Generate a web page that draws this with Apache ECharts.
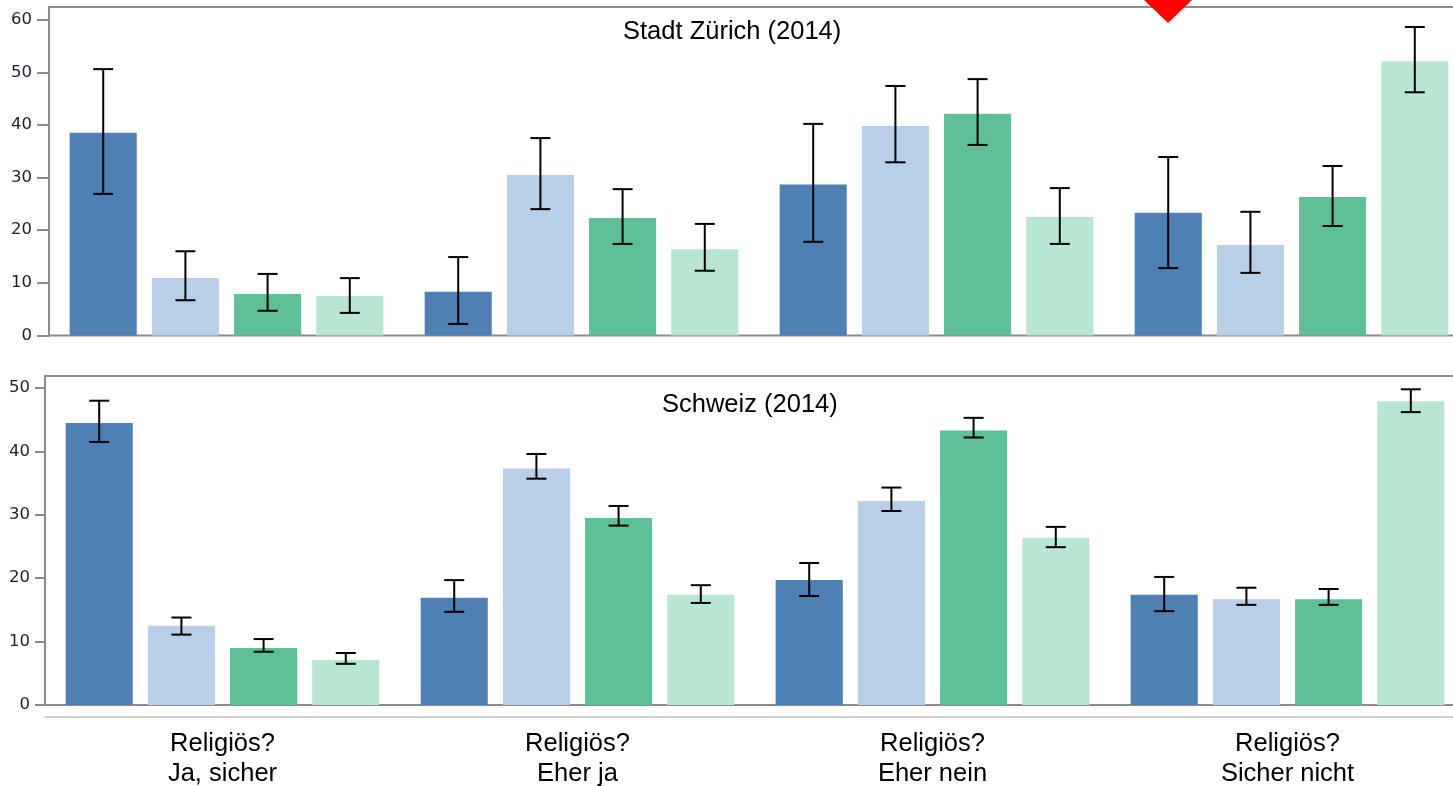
<!DOCTYPE html>
<html>
<head>
<meta charset="utf-8">
<script src="https://cdn.jsdelivr.net/npm/echarts@6/dist/echarts.min.js"></script>
<style>
  html, body { margin: 0; padding: 0; background: #fff; }
  #chart { width: 1453px; height: 786px; }
</style>
</head>
<body>
<div id="chart"></div>
<script>
// categories (x axis)
const categories = ["Religiös?\nJa, sicher", "Religiös?\nEher ja", "Religiös?\nEher nein", "Religiös?\nSicher nicht"];
const seriesNames = ["Gruppe 1", "Gruppe 2", "Gruppe 3", "Gruppe 4"];
const colors = ["#4f80b3", "#b9cfe7", "#5fbf96", "#b8e6d2"];
const yTicksZurich = [0, 10, 20, 30, 40, 50, 60];
const yTicksSchweiz = [0, 10, 20, 30, 40, 50];

// Stadt Zürich (2014): value, lower, upper per group
const zurichValues = [
  [38.5, 8.3, 28.7, 23.3],
  [10.9, 30.5, 39.8, 17.2],
  [7.9, 22.3, 42.1, 26.3],
  [7.5, 16.4, 22.5, 52.1]
];
const zurichLow = [
  [26.9, 2.2, 17.8, 12.8],
  [6.7, 24.0, 32.9, 11.9],
  [4.7, 17.4, 36.2, 20.8],
  [4.3, 12.3, 17.4, 46.2]
];
const zurichHigh = [
  [50.6, 14.9, 40.2, 33.9],
  [16.0, 37.5, 47.4, 23.5],
  [11.7, 27.8, 48.7, 32.2],
  [10.9, 21.2, 28.0, 58.6]
];

// Schweiz (2014)
const schweizValues = [
  [44.5, 16.9, 19.7, 17.4],
  [12.5, 37.3, 32.2, 16.7],
  [9.0, 29.5, 43.3, 16.7],
  [7.1, 17.4, 26.4, 47.9]
];
const schweizLow = [
  [41.5, 14.7, 17.2, 14.8],
  [11.1, 35.7, 30.6, 15.8],
  [8.4, 28.3, 42.2, 15.8],
  [6.5, 16.1, 24.9, 46.2]
];
const schweizHigh = [
  [48.0, 19.7, 22.4, 20.2],
  [13.8, 39.6, 34.3, 18.5],
  [10.4, 31.4, 45.3, 18.3],
  [8.2, 18.9, 28.1, 49.8]
];

const BAR_W = 0.189;  // share of category band
const BAR_GAP = 0.225; // share of bar width

function errorBar(i, gridIdx, low, high) {
  return {
    type: "custom",
    xAxisIndex: gridIdx,
    yAxisIndex: gridIdx,
    z: 10,
    data: low.map((l, k) => [k, l, high[k]]),
    renderItem: function (params, api) {
      const band = api.size([1, 0])[0];
      const off = (i - 1.5) * band * BAR_W * (1 + BAR_GAP);
      const lo = api.coord([api.value(0), api.value(1)]);
      const hi = api.coord([api.value(0), api.value(2)]);
      const x = lo[0] + off;
      const cap = 10;
      const style = { stroke: "#000", lineWidth: 2 };
      return {
        type: "group",
        children: [
          { type: "line", shape: { x1: x, y1: lo[1], x2: x, y2: hi[1] }, style: style },
          { type: "line", shape: { x1: x - cap, y1: lo[1], x2: x + cap, y2: lo[1] }, style: style },
          { type: "line", shape: { x1: x - cap, y1: hi[1], x2: x + cap, y2: hi[1] }, style: style }
        ]
      };
    }
  };
}

const series = [];
[[zurichValues, zurichLow, zurichHigh], [schweizValues, schweizLow, schweizHigh]].forEach((set, g) => {
  set[0].forEach((vals, i) => {
    series.push({
      name: seriesNames[i],
      type: "bar",
      xAxisIndex: g,
      yAxisIndex: g,
      barWidth: (BAR_W * 100) + "%",
      barGap: (BAR_GAP * 100) + "%",
      itemStyle: { color: colors[i] },
      data: vals
    });
  });
  set[0].forEach((vals, i) => series.push(errorBar(i, g, set[1][i], set[2][i])));
});

const yLabel = { fontFamily: "DejaVu Sans", fontSize: 16.5, color: "#1e1e2e" };
const titleStyle = { fontFamily: "Liberation Sans", fontSize: 25.5, fontWeight: "normal", color: "#000" };

const chart = echarts.init(document.getElementById("chart"));
chart.setOption({
  animation: false,
  title: [
    { text: "Stadt Zürich (2014)", left: 623, top: 19, padding: 0, textStyle: titleStyle },
    { text: "Schweiz (2014)", left: 662, top: 392, padding: 0, textStyle: titleStyle }
  ],
  grid: [
    { left: 49, width: 1420, top: 7, bottom: 450.5, outerBoundsMode: "none", containLabel: false, show: true, borderColor: "#8c8c8c", borderWidth: 2, backgroundColor: "transparent" },
    { left: 45, width: 1420, top: 376, bottom: 81, outerBoundsMode: "none", containLabel: false, show: true, borderColor: "#8c8c8c", borderWidth: 2, backgroundColor: "transparent" }
  ],
  xAxis: [
    { type: "category", gridIndex: 0, data: categories, axisLine: { show: false }, axisTick: { show: false }, axisLabel: { show: false } },
    {
      type: "category", gridIndex: 1, data: categories, offset: 12,
      axisLine: { onZero: false, lineStyle: { color: "#bdbdbd", width: 1.5 } },
      axisTick: { show: false },
      axisLabel: { fontFamily: "Liberation Sans", fontSize: 25.5, lineHeight: 30, margin: 12, color: "#000" }
    }
  ],
  yAxis: [
    {
      type: "value", gridIndex: 0, min: 0, max: 62.4,
      splitLine: { show: false },
      axisLine: { show: true, lineStyle: { color: "#8c8c8c", width: 2 } },
      axisTick: { show: true, length: 12, customValues: yTicksZurich, lineStyle: { color: "#8c8c8c", width: 2 } },
      axisLabel: Object.assign({ margin: 17, customValues: yTicksZurich }, yLabel)
    },
    {
      type: "value", gridIndex: 1, min: 0, max: 51.9,
      splitLine: { show: false },
      axisLine: { show: true, lineStyle: { color: "#8c8c8c", width: 2 } },
      axisTick: { show: true, length: 10, customValues: yTicksSchweiz, lineStyle: { color: "#8c8c8c", width: 2 } },
      axisLabel: Object.assign({ margin: 15, customValues: yTicksSchweiz }, yLabel)
    }
  ],
  graphic: [
    { type: "polygon", z: 100, shape: { points: [[1143, -1], [1193, -1], [1168, 23]] }, style: { fill: "#ff0000" } }
  ],
  series: series
});
</script>
</body>
</html>
